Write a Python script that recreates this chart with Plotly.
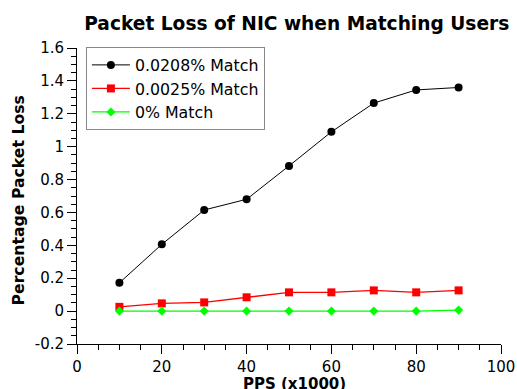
import plotly.graph_objects as go

pps = [10, 20, 30, 40, 50, 60, 70, 80, 90]
loss_0208 = [0.172, 0.406, 0.615, 0.68, 0.883, 1.09, 1.265, 1.345, 1.36]
loss_0025 = [0.026, 0.047, 0.053, 0.084, 0.114, 0.114, 0.126, 0.114, 0.126]
loss_0 = [0.0, 0.0, 0.0, 0.0, 0.0, 0.0, 0.0, 0.0, 0.006]
names = ["0.0208% Match", "0.0025% Match", "0% Match"]
y_tickvals = [-0.2, 0, 0.2, 0.4, 0.6, 0.8, 1, 1.2, 1.4, 1.6]
y_ticktext = ["-0.2", "0", "0.2", "0.4", "0.6", "0.8", "1", "1.2", "1.4", "1.6"]

fig = go.Figure()
fig.add_trace(go.Scatter(x=pps, y=loss_0208, name=names[0], mode="lines+markers",
                         line=dict(color="black", width=1),
                         marker=dict(symbol="circle", size=8, color="black")))
fig.add_trace(go.Scatter(x=pps, y=loss_0025, name=names[1], mode="lines+markers",
                         line=dict(color="red", width=1.3),
                         marker=dict(symbol="square", size=8, color="red")))
fig.add_trace(go.Scatter(x=pps, y=loss_0, name=names[2], mode="lines+markers",
                         line=dict(color="#00ff00", width=1.3),
                         marker=dict(symbol="diamond", size=7, color="#00ff00")))

fig.update_layout(
    width=517, height=389,
    margin=dict(l=77, r=16, t=48, b=45, autoexpand=False),
    paper_bgcolor="white", plot_bgcolor="white",
    font=dict(family="DejaVu Sans", size=15, color="black"),
    title=dict(text="<b>Packet Loss of NIC when Matching Users</b>", x=0.574, xanchor="center",
               y=1 - 23 / 389, yanchor="middle", font=dict(size=18.6)),
    showlegend=True,
    legend=dict(x=0.021, y=1.003, xanchor="left", yanchor="top",
                bordercolor="#888888", borderwidth=1, bgcolor="white",
                font=dict(size=15.8), tracegroupgap=0, itemwidth=38),
    xaxis=dict(range=[0, 100], dtick=20, showgrid=False, zeroline=False,
               showline=True, linecolor="black", linewidth=1, automargin=False,
               ticks="outside", ticklen=9, tickcolor="black",
               minor=dict(dtick=5, ticks="outside", ticklen=5, tickcolor="black")),
    yaxis=dict(range=[-0.2, 1.6], tickvals=y_tickvals, ticktext=y_ticktext,
               showgrid=False, zeroline=False,
               showline=True, linecolor="black", linewidth=1, automargin=False,
               ticks="outside", ticklen=9, tickcolor="black",
               minor=dict(dtick=0.05, ticks="outside", ticklen=5, tickcolor="black")),
    annotations=[
        dict(text="<b>PPS (x1000)</b>", xref="paper", yref="paper",
             x=(294 - 77) / 424, y=-(373 - 344) / 296, xanchor="center", yanchor="top",
             showarrow=False, font=dict(size=15)),
        dict(text="<b>Percentage Packet Loss</b>", xref="paper", yref="paper",
             x=-(77 - 17.5) / 424, y=(344 - 201) / 296, xanchor="center", yanchor="middle",
             textangle=-90, showarrow=False, font=dict(size=15.7)),
    ],
)

fig.write_html("out.html", config={"displayModeBar": False},
               post_script="document.body.style.margin='0px';")
